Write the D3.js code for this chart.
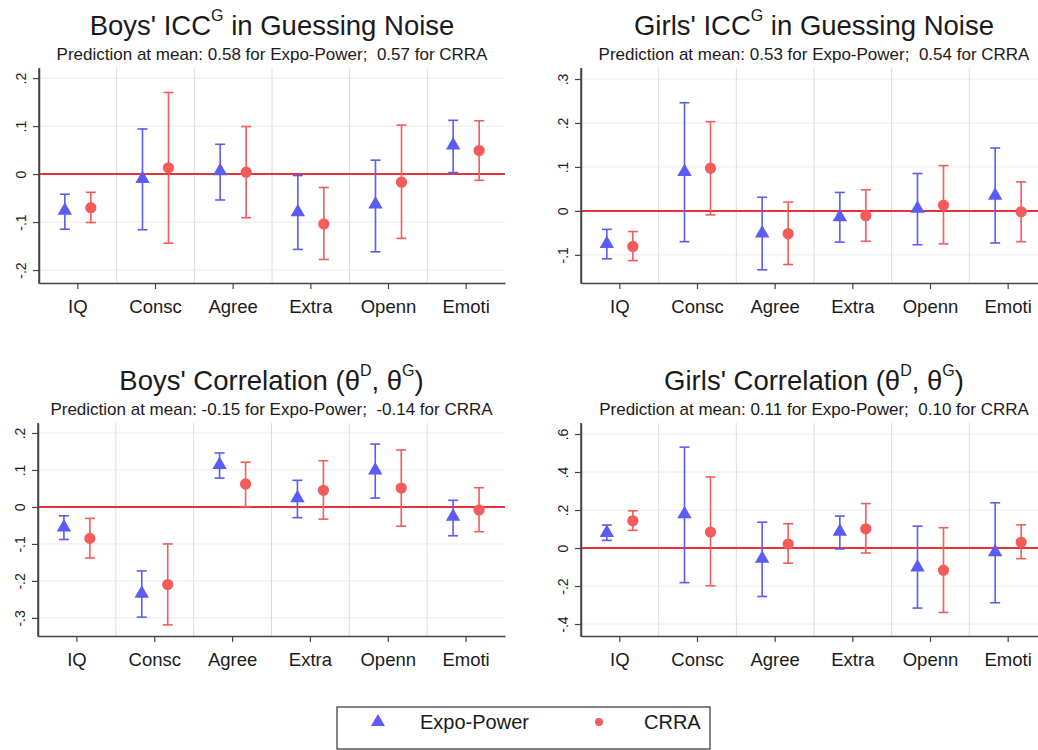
<!DOCTYPE html>
<html>
<head>
<meta charset="utf-8">
<script src="https://cdn.jsdelivr.net/npm/d3@7"></script>
<style>
  body { margin: 0; background: #fff; }
  text { font-family: "Liberation Sans", Arial, Helvetica, sans-serif; fill: #1a1a1a; }
</style>
</head>
<body>
<svg width="1038" height="750"></svg>
<script>
// categories and series
const categories = ["IQ", "Consc", "Agree", "Extra", "Openn", "Emoti"];
const seriesNames = ["Expo-Power", "CRRA"];

// Boys' ICC^G in guessing noise
const boysIccExpo = [-0.076, -0.010, 0.006, -0.079, -0.063, 0.060];
const boysIccExpoCI = [[-0.115, -0.042], [-0.116, 0.094], [-0.054, 0.062], [-0.157, -0.003], [-0.162, 0.029], [0.003, 0.112]];
const boysIccCrra = [-0.070, 0.013, 0.004, -0.104, -0.017, 0.049];
const boysIccCrraCI = [[-0.101, -0.038], [-0.144, 0.170], [-0.091, 0.099], [-0.178, -0.028], [-0.134, 0.102], [-0.013, 0.111]];
const boysIccTicks = [-0.2, -0.1, 0, 0.1, 0.2];

// Girls' ICC^G in guessing noise
const girlsIccExpo = [-0.075, 0.089, -0.051, -0.014, 0.005, 0.035];
const girlsIccExpoCI = [[-0.109, -0.042], [-0.070, 0.246], [-0.134, 0.031], [-0.071, 0.042], [-0.077, 0.085], [-0.073, 0.143]];
const girlsIccCrra = [-0.081, 0.097, -0.052, -0.011, 0.013, -0.002];
const girlsIccCrraCI = [[-0.113, -0.047], [-0.009, 0.203], [-0.122, 0.020], [-0.069, 0.048], [-0.075, 0.103], [-0.070, 0.066]];
const girlsIccTicks = [-0.1, 0, 0.1, 0.2, 0.3];

// Boys' correlation (theta D, theta G)
const boysCorrExpo = [-0.055, -0.234, 0.114, 0.024, 0.099, -0.026];
const boysCorrExpoCI = [[-0.088, -0.024], [-0.298, -0.173], [0.078, 0.146], [-0.029, 0.072], [0.024, 0.170], [-0.078, 0.018]];
const boysCorrCrra = [-0.085, -0.210, 0.062, 0.045, 0.051, -0.008];
const boysCorrCrraCI = [[-0.138, -0.031], [-0.319, -0.100], [0.001, 0.121], [-0.033, 0.125], [-0.052, 0.154], [-0.067, 0.052]];
const boysCorrTicks = [-0.3, -0.2, -0.1, 0, 0.1, 0.2];

// Girls' correlation (theta D, theta G)
const girlsCorrExpo = [0.080, 0.178, -0.056, 0.086, -0.101, -0.021];
const girlsCorrExpoCI = [[0.040, 0.121], [-0.182, 0.531], [-0.255, 0.136], [-0.005, 0.168], [-0.316, 0.115], [-0.288, 0.238]];
const girlsCorrCrra = [0.143, 0.084, 0.021, 0.101, -0.117, 0.030];
const girlsCorrCrraCI = [[0.093, 0.196], [-0.199, 0.374], [-0.080, 0.128], [-0.026, 0.234], [-0.339, 0.107], [-0.056, 0.122]];
const girlsCorrTicks = [-0.4, -0.2, 0, 0.2, 0.4, 0.6];

const blue = "#5b5bf5", red = "#f45c5c";

let svg = d3.select("svg");

const panels = [
  { title: ["Boys' ICC", "G", " in Guessing Noise"], sub: "Prediction at mean: 0.58 for Expo-Power;  0.57 for CRRA",
    expo: boysIccExpo, expoCI: boysIccExpoCI, crra: boysIccCrra, crraCI: boysIccCrraCI, ticks: boysIccTicks,
    domain: [-0.227, 0.221], x0: 39, x1: 505, y0: 68, y1: 283 },
  { title: ["Girls' ICC", "G", " in Guessing Noise"], sub: "Prediction at mean: 0.53 for Expo-Power;  0.54 for CRRA",
    expo: girlsIccExpo, expoCI: girlsIccExpoCI, crra: girlsIccCrra, crraCI: girlsIccCrraCI, ticks: girlsIccTicks,
    domain: [-0.164, 0.325], x0: 581, x1: 1047, y0: 68, y1: 283 },
  { title: ["Boys' Correlation (\u03b8", "D", ", \u03b8", "G", ")"], sub: "Prediction at mean: -0.15 for Expo-Power;  -0.14 for CRRA",
    expo: boysCorrExpo, expoCI: boysCorrExpoCI, crra: boysCorrCrra, crraCI: boysCorrCrraCI, ticks: boysCorrTicks,
    domain: [-0.349, 0.227], x0: 38, x1: 505, y0: 423, y1: 636 },
  { title: ["Girls' Correlation (\u03b8", "D", ", \u03b8", "G", ")"], sub: "Prediction at mean: 0.11 for Expo-Power;  0.10 for CRRA",
    expo: girlsCorrExpo, expoCI: girlsCorrExpoCI, crra: girlsCorrCrra, crraCI: girlsCorrCrraCI, ticks: girlsCorrTicks,
    domain: [-0.463, 0.658], x0: 581, x1: 1047, y0: 423, y1: 636 }
];

// ".2" / "-.1" / "0" style like Stata
let fmt = function(v) {
  let s = String(+v.toFixed(2));
  return s.replace(/^(-?)0\./, "$1.");
};

panels.forEach(function(p) {
  let g = svg.append("g");
  let x = d3.scaleBand().domain(categories).range([p.x0, p.x1]);
  let y = d3.scaleLinear().domain(p.domain).range([p.y1, p.y0]);

  // horizontal grid
  g.selectAll(".hgrid").data(p.ticks).enter().append("line")
    .attr("x1", p.x0).attr("x2", p.x1)
    .attr("y1", d => y(d)).attr("y2", d => y(d))
    .attr("stroke", "#ececec").attr("stroke-width", 1);

  // vertical separators between categories
  g.selectAll(".vgrid").data(categories.slice(1)).enter().append("line")
    .attr("x1", d => x(d)).attr("x2", d => x(d))
    .attr("y1", p.y0).attr("y2", p.y1)
    .attr("stroke", "#dcdcdc").attr("stroke-width", 1);

  // zero line
  g.append("line")
    .attr("x1", p.x0).attr("x2", p.x1)
    .attr("y1", y(0)).attr("y2", y(0))
    .attr("stroke", "#e8323a").attr("stroke-width", 2);

  // y axis
  let yAxis = g.append("g")
    .attr("transform", "translate(" + p.x0 + ",0)")
    .call(d3.axisLeft(y).tickValues(p.ticks).tickSize(6).tickSizeOuter(0).tickFormat(fmt));
  yAxis.select(".domain").attr("stroke", "#444").attr("stroke-width", 1.5);
  yAxis.selectAll(".tick line").attr("stroke", "#444").attr("stroke-width", 1.2);
  yAxis.selectAll(".tick text")
    .attr("x", 0).attr("dy", 0)
    .attr("transform", "translate(-13,0) rotate(-90)")
    .attr("text-anchor", "middle")
    .style("font-size", "14px").style("fill", "#1a1a1a");

  // x axis
  let xAxis = g.append("g")
    .attr("transform", "translate(0," + p.y1 + ")")
    .call(d3.axisBottom(x).tickSize(6).tickSizeOuter(0));
  xAxis.select(".domain").attr("stroke", "#444").attr("stroke-width", 1.5);
  xAxis.selectAll(".tick line").attr("stroke", "#444").attr("stroke-width", 1.2);
  xAxis.selectAll(".tick text")
    .attr("y", 30).attr("dy", 0)
    .style("font-size", "18.5px").style("fill", "#1a1a1a");
  // left axis line reaches the x axis line
  g.append("line").attr("x1", p.x0).attr("x2", p.x0).attr("y1", p.y0).attr("y2", p.y1 + 0.75)
    .attr("stroke", "#444").attr("stroke-width", 1.5);

  // series
  let series = [
    { vals: p.expo, ci: p.expoCI, color: blue, off: -13, sym: d3.symbolTriangle, size: 90 },
    { vals: p.crra, ci: p.crraCI, color: red, off: 13, sym: d3.symbolCircle, size: 100 }
  ];
  series.forEach(function(s) {
    let cx = (d, i) => x(categories[i]) + x.bandwidth() / 2 + s.off;
    let sg = g.append("g");
    sg.selectAll(".ci").data(s.ci).enter().append("line")
      .attr("x1", cx).attr("x2", cx)
      .attr("y1", d => y(d[0])).attr("y2", d => y(d[1]))
      .attr("stroke", s.color).attr("stroke-width", 1.6);
    sg.selectAll(".caplo").data(s.ci).enter().append("line")
      .attr("x1", (d, i) => cx(d, i) - 5).attr("x2", (d, i) => cx(d, i) + 5)
      .attr("y1", d => y(d[0])).attr("y2", d => y(d[0]))
      .attr("stroke", s.color).attr("stroke-width", 1.6);
    sg.selectAll(".caphi").data(s.ci).enter().append("line")
      .attr("x1", (d, i) => cx(d, i) - 5).attr("x2", (d, i) => cx(d, i) + 5)
      .attr("y1", d => y(d[1])).attr("y2", d => y(d[1]))
      .attr("stroke", s.color).attr("stroke-width", 1.6);
    sg.selectAll(".pt").data(s.vals).enter().append("path")
      .attr("d", d3.symbol().type(s.sym).size(s.size))
      .attr("transform", (d, i) => "translate(" + cx(d, i) + "," + y(d) + ")")
      .attr("fill", s.color);
  });

  // titles
  let cxTitle = (p.x0 + p.x1) / 2;
  let t = g.append("text")
    .attr("x", cxTitle).attr("y", p.y0 - 33)
    .attr("text-anchor", "middle")
    .style("font-size", "27.5px");
  p.title.forEach(function(part, i) {
    if (i % 2 == 1) {
      t.append("tspan").attr("dy", -14).style("font-size", "16px").text(part);
    } else {
      t.append("tspan").attr("dy", i == 0 ? 0 : 14).text(part);
    }
  });
  g.append("text")
    .attr("x", cxTitle).attr("y", p.y0 - 8)
    .attr("text-anchor", "middle")
    .attr("xml:space", "preserve")
    .style("white-space", "pre")
    .style("font-size", "17px")
    .text(p.sub);
});

// legend
let legend = svg.append("g");
legend.append("rect")
  .attr("x", 337).attr("y", 707).attr("width", 373).attr("height", 42)
  .attr("fill", "none").attr("stroke", "#333").attr("stroke-width", 1.2);
let legendSyms = [d3.symbolTriangle, d3.symbolCircle];
let legendColors = [blue, red];
seriesNames.forEach(function(name, i) {
  legend.append("path")
    .attr("d", d3.symbol().type(legendSyms[i]).size(i == 0 ? 85 : 50))
    .attr("transform", "translate(" + (i == 0 ? 378 : 599) + "," + 722 + ")")
    .attr("fill", legendColors[i]);
  legend.append("text")
    .attr("x", i == 0 ? 420 : 644).attr("y", 729)
    .style("font-size", "20px")
    .text(name);
});
</script>
</body>
</html>
